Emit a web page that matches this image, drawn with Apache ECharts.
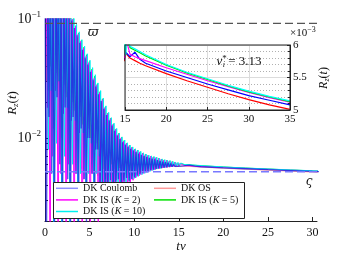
<!DOCTYPE html>
<html><head><meta charset="utf-8">
<script src="https://cdn.jsdelivr.net/npm/echarts@6/dist/echarts.min.js"></script>
<style>html,body{margin:0;padding:0;background:#fff}#c{width:349px;height:256px}</style>
</head><body><div id="c"></div>
<script>
// ---- data (R values in units of 1e-5) ----
const UNIT = 1e-5;
const tPeak = [0,0.3,0.6,0.9,1.2,1.5,1.8,2.1,2.4,2.7,3.0,3.3,3.6,3.9,4.2,4.5,4.8,5.1,5.4,5.7,6.0,6.3,6.6,6.9,7.2,7.5,7.8,8.1,8.4,8.7,9.0,9.3,9.6,9.9,10.2,10.5,10.8,11.1,11.4,11.7,12.0,12.3,12.6,12.9,13.2,13.5,13.8,14.1,14.4,14.7,15.0];
const tTrough = [0.15,0.45,0.75,1.05,1.35,1.65,1.95,2.25,2.55,2.85,3.15,3.45,3.75,4.05,4.35,4.65,4.95,5.25,5.55,5.85,6.15,6.45,6.75,7.05,7.35,7.65,7.95,8.25,8.55,8.85,9.15,9.45,9.75,10.05,10.35,10.65,10.95,11.25,11.55,11.85,12.15,12.45,12.75,13.05,13.35,13.65,13.95,14.25,14.55,14.85];
const tTail = [15.6,16.2,16.8,17.5,20,22.5,25,27.5,30,32.5,35];

const lagCoulomb = 0.0, lagOS = 0.06, lagIS2 = 0.12, lagIS5 = 0.18, lagIS10 = 0.24;

const coulombPeaks = [30000,30000,30000,30000,30000,27000,23000,19000,15500,12000,9700,8400,7300,6300,5500,4750,4150,3600,3100,2700,2330,2040,1760,1560,1410,1270,1150,1050,980,920,880,840,810,785,760,740,720,705,690,680,670,660,650,640,630,625,620,610,600,595,590];
const coulombTroughs = [50,1500,500,80,2200,600,100,1800,450,120,1500,500,150,1200,450,180,1000,500,200,800,250,420,300,350,440,330,380,450,370,410,460,430,450,465,480,495,505,515,525,535,540,548,553,558,562,566,569,572,575,577];
const coulombTail = [582,589,578,572,560,550,540,531,522,515,508];

const osPeaks = [30000,30000,30000,30000,29000,26000,22000,18000,14500,11500,9300,8100,7000,6100,5300,4600,4000,3500,3000,2600,2250,1980,1720,1530,1380,1250,1130,1040,970,910,870,830,800,775,750,730,712,698,685,675,665,655,645,636,628,622,616,608,600,594,588];
const osTroughs = [3000,900,4000,2500,800,3000,2000,700,2500,1600,600,1800,1300,550,1400,1100,500,1000,900,480,600,700,450,550,600,420,520,560,430,500,530,460,480,490,500,508,515,522,529,535,540,546,551,556,560,564,567,570,573,575];
const osTail = [580,576,572,568,556,545,535,525,516,508,501];

const is2Peaks = [30000,30000,30000,30000,30000,28000,24000,20000,16000,12500,10000,8700,7500,6500,5700,4900,4300,3700,3200,2800,2400,2100,1800,1600,1450,1300,1180,1080,1000,940,900,860,830,800,780,760,740,722,710,700,690,680,670,660,650,645,640,630,622,616,610];
const is2Troughs = [1800,40,700,2500,60,500,1600,70,600,1400,90,500,1100,100,450,1000,120,500,800,150,400,230,350,420,270,380,440,310,400,430,360,420,440,460,475,490,502,512,522,532,540,547,553,558,563,567,570,574,577,580];
const is2Tail = [586,582,579,576,565,555,545,536,527,519,512];

const is5Peaks = [30000,30000,30000,30000,30000,28500,24500,20500,16500,12800,10100,8800,7600,6600,5800,5000,4400,3800,3300,2850,2450,2130,1830,1620,1460,1310,1190,1090,1010,950,905,865,835,805,785,765,745,727,714,703,693,683,673,663,653,647,641,632,624,617,611];
const is5Troughs = [2500,4000,1200,3500,3000,1000,2800,2200,900,2000,1700,800,1500,1300,700,1200,1000,650,900,800,600,550,650,520,600,550,500,560,520,500,540,510,520,525,530,535,540,545,550,554,558,562,565,568,571,574,577,580,582,584];
const is5Tail = [596,592,588,583,569,557,547,537,528,520,513];

const is10Peaks = [30000,30000,30000,30000,30000,29000,25000,21000,17000,13200,10300,9000,7800,6700,5900,5100,4500,3900,3400,2900,2500,2160,1860,1640,1480,1330,1200,1100,1020,960,910,870,840,810,790,770,750,732,718,706,696,686,676,666,656,650,644,635,627,620,614];
const is10Troughs = [800,2500,70,900,3000,110,700,1800,150,600,1400,200,500,1100,230,500,900,260,500,700,300,380,420,320,400,430,350,420,440,390,440,450,455,468,480,492,503,513,523,532,540,547,553,559,564,569,573,577,581,584];
const is10Tail = [598,594,590,585,570,558,548,538,529,521,514];

const varpiVal = 0.092;      // upper dashed reference level
const varsigmaVal = 0.0052;  // lower dashed reference level
const xMin = 0, xMax = 30.5;
const nuStar = '3.13';

const xTickVals = [0,5,10,15,20,25,30];
const yLabelVals = [0.01,0.1];
const yTickVals = [0.002,0.003,0.004,0.005,0.006,0.007,0.008,0.009,0.01,0.02,0.03,0.04,0.05,0.06,0.07,0.08,0.09,0.1];

// ---- build point lists ----
function build(lag, peaks, troughs, tail){
  const pts = [];
  for (let i=0;i<tPeak.length;i++){
    pts.push([tPeak[i]+lag, peaks[i]*UNIT]);
    if (i<tTrough.length) pts.push([tTrough[i]+lag, troughs[i]*UNIT]);
  }
  for (let j=0;j<tTail.length;j++) pts.push([tTail[j], tail[j]*UNIT]);
  return pts;
}
const dCoulomb = build(lagCoulomb, coulombPeaks, coulombTroughs, coulombTail);
const dOS = build(lagOS, osPeaks, osTroughs, osTail);
const dIS2 = build(lagIS2, is2Peaks, is2Troughs, is2Tail);
const dIS5 = build(lagIS5, is5Peaks, is5Troughs, is5Tail);
const dIS10 = build(lagIS10, is10Peaks, is10Troughs, is10Tail);

const FF = "'Liberation Serif','DejaVu Serif',serif";
const TXT = '#111';

function mainLine(name, data, color, width){
  return {name, type:'line', data, xAxisIndex:0, yAxisIndex:0,
    showSymbol:false, symbol:'none', z:2, silent:true,
    lineStyle:{color, width:width||1}, itemStyle:{color}};
}
function insetLine(name, data, color){
  return {name, type:'line', data, xAxisIndex:1, yAxisIndex:1,
    showSymbol:false, symbol:'none', z:13, silent:true,
    lineStyle:{color, width:1.2}, itemStyle:{color}};
}
function refLine(name, val, color, width){
  return {name, type:'line', data:[[xMin,val],[xMax,val]], xAxisIndex:0, yAxisIndex:0,
    showSymbol:false, symbol:'none', z:3, silent:true,
    lineStyle:{color, width, type:[8,4]}, itemStyle:{color}};
}

const chart = echarts.init(document.getElementById('c'), null, {renderer:'canvas'});
const legendText = {fontFamily:FF, fontSize:10, color:TXT, lineHeight:11.6,
  rich:{i:{fontFamily:FF, fontSize:10, fontStyle:'italic', color:TXT, lineHeight:11.6}}};
const legFmt = n => n.replace('(K', '({i|K}');

chart.setOption({
  animation:false,
  backgroundColor:'#fff',
  grid:[
    {left:45, top:19, width:272, height:202, show:false},
    {left:125, top:45, width:165, height:65, show:false}
  ],
  xAxis:[
    {type:'value', gridIndex:0, min:xMin, max:xMax, z:1,
     axisLine:{show:true, onZero:false, lineStyle:{color:'#222', width:1}},
     axisTick:{show:true, inside:true, length:4, customValues:xTickVals, lineStyle:{color:'#222'}},
     axisLabel:{customValues:xTickVals, fontFamily:FF, fontSize:12, color:TXT, margin:6},
     splitLine:{show:false}},
    {type:'value', gridIndex:1, min:15, max:35, interval:5, z:12,
     axisLine:{show:true, onZero:false, lineStyle:{color:'#222', width:1}},
     axisTick:{show:true, inside:true, length:3, lineStyle:{color:'#222'}},
     axisLabel:{fontFamily:FF, fontSize:11, color:TXT, margin:4},
     splitLine:{show:true, lineStyle:{color:'#dcdcdc', width:1}}}
  ],
  yAxis:[
    {type:'log', logBase:10, gridIndex:0, min:0.002, max:0.1, z:1,
     axisLine:{show:true, onZero:false, lineStyle:{color:'#222', width:1}},
     axisTick:{show:true, inside:true, length:3, customValues:yTickVals, lineStyle:{color:'#222'}},
     axisLabel:{customValues:yLabelVals, margin:4, color:TXT,
       formatter:v => '{b|10}{s|\u2212' + Math.abs(Math.round(Math.log10(v))) + '}',
       rich:{b:{fontFamily:FF, fontSize:14, color:TXT}, s:{fontFamily:FF, fontSize:9, color:TXT, padding:[0,0,9,0]}}},
     splitLine:{show:false}},
    {type:'value', gridIndex:1, position:'right', min:0.005, max:0.006, interval:0.0005, z:12,
     axisLine:{show:true, onZero:false, lineStyle:{color:'#222', width:1}},
     axisTick:{show:true, inside:true, length:3, lineStyle:{color:'#222'}},
     minorTick:{show:true, splitNumber:5, length:2, lineStyle:{color:'#222'}},
     axisLabel:{fontFamily:FF, fontSize:11, color:TXT, margin:3,
       formatter:v => String(+(v*1000).toFixed(1))},
     splitLine:{show:true, lineStyle:{color:'#dcdcdc', width:1}},
     minorSplitLine:{show:true, lineStyle:{color:'#b0b0b0', width:1, type:[1,2]}}}
  ],
  legend:[
    {data:[{name:'DK Coulomb', itemStyle:{color:'#8c8cff'}},'DK IS (K = 2)','DK IS (K = 10)'],
     orient:'vertical', left:56, top:182.5,
     itemWidth:22, itemHeight:1.5, itemGap:0, icon:'rect', padding:0, selectedMode:false, z:11,
     textStyle:legendText, formatter:legFmt},
    {data:[{name:'DK OS', itemStyle:{color:'#ff9a9a'}},'DK IS (K = 5)'],
     orient:'vertical', left:154, top:182.5,
     itemWidth:22, itemHeight:1.5, itemGap:0, icon:'rect', padding:0, selectedMode:false, z:11,
     textStyle:legendText, formatter:legFmt}
  ],
  series:[
    mainLine('DK IS (K = 5)', dIS5, '#00e000'),
    mainLine('DK OS', dOS, 'rgba(255,0,0,0.4)'),
    mainLine('DK IS (K = 2)', dIS2, '#ff00ff'),
    mainLine('DK IS (K = 10)', dIS10, '#00f0f0'),
    mainLine('DK Coulomb', dCoulomb, 'rgba(20,20,225,0.72)', 1.3),
    refLine('varpi', varpiVal, '#555', 1.2),
    refLine('varsigma', varsigmaVal, '#7878ff', 1.5),
    insetLine('inOS', dOS, '#ff0000'),
    insetLine('inCoulomb', dCoulomb, '#0000ff'),
    insetLine('inIS2', dIS2, '#ff00ff'),
    insetLine('inIS5', dIS5, '#00e000'),
    insetLine('inIS10', dIS10, '#00ffff')
  ],
  graphic:[
    {type:'rect', z:10, silent:true, shape:{x:53.5, y:182.5, width:191, height:36},
     style:{fill:'#fff', stroke:'#222', lineWidth:1}},
    {type:'rect', z:10, silent:true, shape:{x:125, y:45, width:165, height:65},
     style:{fill:'#fff'}},
    {type:'rect', z:14, silent:true, shape:{x:125, y:45, width:165, height:65},
     style:{fill:null, stroke:'#222', lineWidth:1}},
    {type:'text', z:15, silent:true, x:239, y:62,
     style:{text:'{i|\u03bd}{s|*}{b|i}{r| = '+nuStar+'}', align:'center', verticalAlign:'middle',
       rich:{i:{fontFamily:FF, fontSize:13, fontStyle:'italic', fill:TXT},
             s:{fontFamily:FF, fontSize:9, fill:TXT, padding:[0,0,7,0]},
             b:{fontFamily:FF, fontSize:8, fontStyle:'italic', fill:TXT, padding:[5,0,0,-4]},
             r:{fontFamily:FF, fontSize:13, fill:TXT}}}},
    {type:'text', z:15, silent:true, x:290, y:33,
     style:{text:'{a|\u00d710}{s|\u22123}', align:'left', verticalAlign:'middle',
       rich:{a:{fontFamily:FF, fontSize:11, fill:TXT}, s:{fontFamily:FF, fontSize:8, fill:TXT, padding:[0,0,7,0]}}}},
    {type:'text', z:15, silent:true, x:324, y:78, rotation:Math.PI/2,
     style:{text:'{i|R}{b|z}{r|(}{i|t}{r|)}', align:'center', verticalAlign:'middle',
       rich:{i:{fontFamily:FF, fontSize:12, fontStyle:'italic', fill:TXT},
             b:{fontFamily:FF, fontSize:8, fontStyle:'italic', fill:TXT, padding:[5,0,0,0]},
             r:{fontFamily:FF, fontSize:12, fill:TXT}}}},
    {type:'text', z:15, silent:true, x:13, y:103, rotation:Math.PI/2,
     style:{text:'{i|R}{b|z}{r|(}{i|t}{r|)}', align:'center', verticalAlign:'middle',
       rich:{i:{fontFamily:FF, fontSize:13, fontStyle:'italic', fill:TXT},
             b:{fontFamily:FF, fontSize:9, fontStyle:'italic', fill:TXT, padding:[5,0,0,0]},
             r:{fontFamily:FF, fontSize:13, fill:TXT}}}},
    {type:'text', z:15, silent:true, x:181, y:247,
     style:{text:'t\u03bd', align:'center', verticalAlign:'middle',
       font:"italic 13px 'Liberation Serif','DejaVu Serif',serif", fill:TXT}},
    {type:'text', z:15, silent:true, x:93, y:33,
     style:{text:'\u03d6', align:'center', verticalAlign:'middle',
       font:"italic 13px 'DejaVu Serif','Liberation Serif',serif", fill:TXT}},
    {type:'text', z:15, silent:true, x:309, y:182,
     style:{text:'\u03c2', align:'center', verticalAlign:'middle',
       font:"italic 12px 'DejaVu Serif','Liberation Serif',serif", fill:TXT}}
  ]
});
</script></body></html>
